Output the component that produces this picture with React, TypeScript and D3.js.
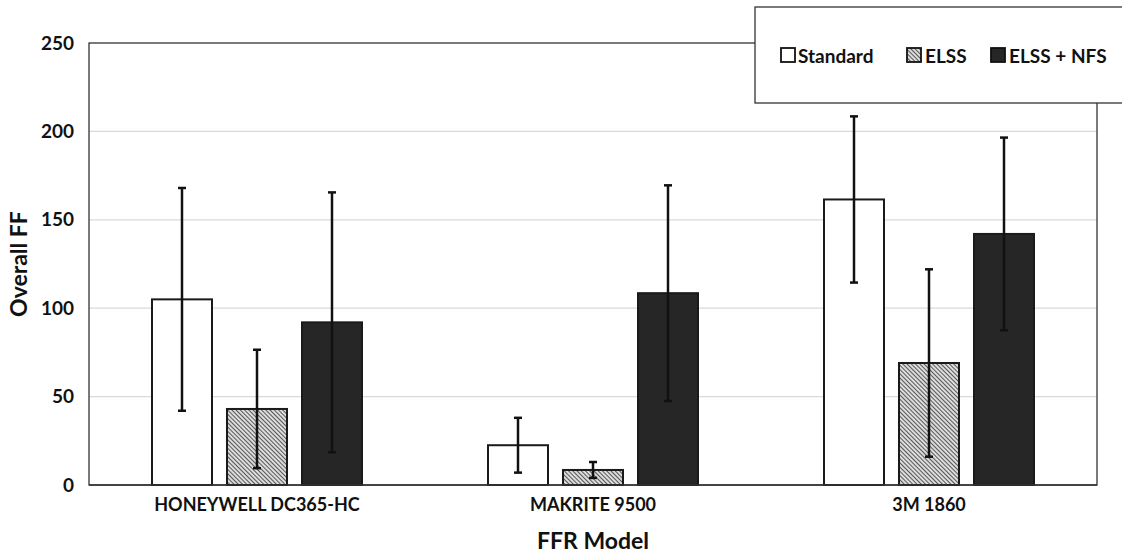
import * as d3 from "d3";

const models = ["HONEYWELL DC365-HC", "MAKRITE 9500", "3M 1860"];
const seriesNames = ["Standard", "ELSS", "ELSS + NFS"];
const standardMean = [105, 22.5, 161.5];
const standardErr = [63, 15.5, 47];
const elssMean = [43, 8.5, 69];
const elssErr = [33.5, 4.5, 53];
const nfsMean = [92, 108.5, 142];
const nfsErr = [73.5, 61, 54.5];
const yTicks = [0, 50, 100, 150, 200, 250];

const W = 1122;
const H = 556;
const margin = { top: 43, right: 25, bottom: 71, left: 89 };
const font = "Lato, 'Open Sans', sans-serif";

export default function App() {
  const innerW = W - margin.left - margin.right;
  const innerH = H - margin.top - margin.bottom;
  const x0 = d3.scaleBand().domain(models).range([0, innerW]);
  const x1 = d3.scaleBand().domain(seriesNames).range([0, 210]).paddingInner(0.2);
  const y = d3.scaleLinear().domain([0, 250]).range([innerH, 0]);

  const series = [
    { name: seriesNames[0], mean: standardMean, err: standardErr, fill: "#ffffff" },
    { name: seriesNames[1], mean: elssMean, err: elssErr, fill: "url(#hatch)" },
    { name: seriesNames[2], mean: nfsMean, err: nfsErr, fill: "#262626" },
  ];
  const groupOffset = (x0.bandwidth() - 210) / 2;

  const legendItems = [
    { x: 781, textX: 798 },
    { x: 907, textX: 925 },
    { x: 991, textX: 1009 },
  ];

  return (
    <svg width={W} height={H} style={{ position: "absolute", left: 0, top: 0, background: "#fff" }}>
      <defs>
        <pattern id="hatch" width="3" height="3" patternUnits="userSpaceOnUse" patternTransform="rotate(-45)">
          <rect width="3" height="3" fill="#dcdcdc" />
          <line x1="0" y1="0" x2="0" y2="3" stroke="#2a2a2a" strokeWidth="1.5" />
        </pattern>
      </defs>
      <g transform={`translate(${margin.left},${margin.top})`}>
        {yTicks.slice(1, -1).map((t) => (
          <line key={t} x1={0} x2={innerW} y1={y(t)} y2={y(t)} stroke="#d9d9d9" strokeWidth={1.3} />
        ))}
        <rect x={0} y={0} width={innerW} height={innerH} fill="none" stroke="#333" strokeWidth={1.3} />
        {series.map((s) =>
          models.map((m, i) => {
            const bx = (x0(m) ?? 0) + groupOffset + (x1(s.name) ?? 0);
            const bw = x1.bandwidth();
            const cx = bx + bw / 2;
            const top = y(s.mean[i] + s.err[i]);
            const bot = y(Math.max(0, s.mean[i] - s.err[i]));
            return (
              <g key={s.name + m}>
                <rect x={bx} y={y(s.mean[i])} width={bw} height={innerH - y(s.mean[i])} fill={s.fill} stroke="#1a1a1a" strokeWidth={2} />
                <line x1={cx} x2={cx} y1={top} y2={bot} stroke="#111" strokeWidth={2.5} />
                <line x1={cx - 4} x2={cx + 4} y1={top} y2={top} stroke="#111" strokeWidth={2.5} />
                <line x1={cx - 4} x2={cx + 4} y1={bot} y2={bot} stroke="#111" strokeWidth={2.5} />
              </g>
            );
          })
        )}
        <line x1={0} x2={innerW} y1={innerH} y2={innerH} stroke="#333" strokeWidth={1.5} />
        {yTicks.map((t) => (
          <text key={t} x={-15} y={y(t)} dy="0.35em" textAnchor="end" fontFamily={font} fontWeight={700} fontSize={19} fill="#111">
            {t}
          </text>
        ))}
        {models.map((m) => (
          <text key={m} x={(x0(m) ?? 0) + x0.bandwidth() / 2} y={innerH + 26} textAnchor="middle" fontFamily={font} fontWeight={700} fontSize={18} fill="#111">
            {m}
          </text>
        ))}
      </g>
      <text x={margin.left + innerW / 2} y={549} textAnchor="middle" fontFamily={font} fontWeight={700} fontSize={23} fill="#111">
        FFR Model
      </text>
      <text transform={`translate(27,${margin.top + innerH / 2}) rotate(-90)`} textAnchor="middle" fontFamily={font} fontWeight={700} fontSize={23} fill="#111">
        Overall FF
      </text>
      <rect x={755} y={7} width={380} height={96} fill="#fff" stroke="#333" strokeWidth={1.3} />
      {series.map((s, i) => (
        <g key={s.name}>
          <rect x={legendItems[i].x} y={48} width={14} height={14} fill={s.fill} stroke="#111" strokeWidth={1.8} />
          <text x={legendItems[i].textX} y={56} dy="0.35em" fontFamily={font} fontWeight={700} fontSize={19} fill="#111">
            {s.name}
          </text>
        </g>
      ))}
    </svg>
  );
}
